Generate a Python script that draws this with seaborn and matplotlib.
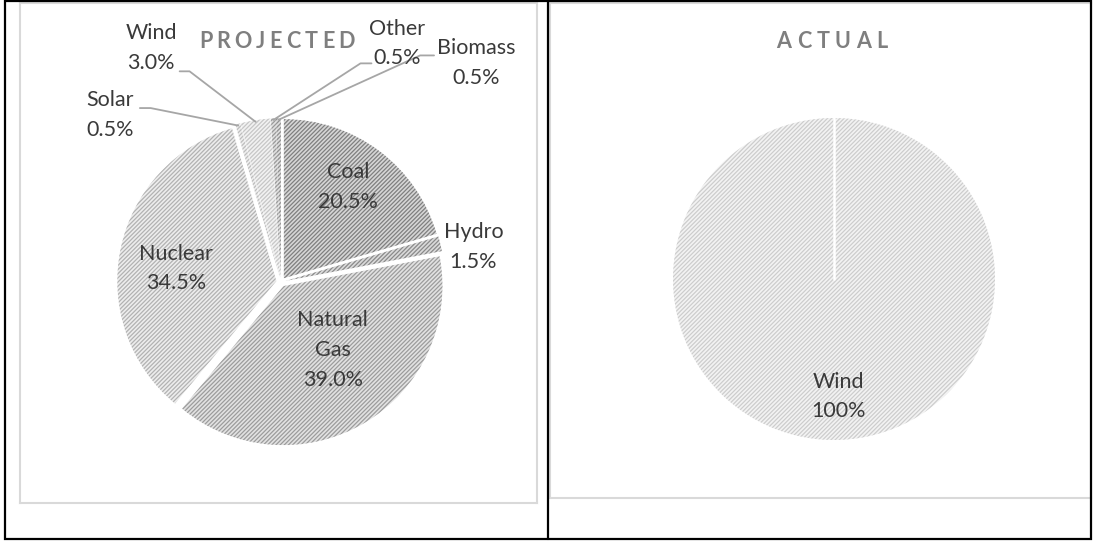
import matplotlib
matplotlib.use("Agg")
import matplotlib.pyplot as plt
from matplotlib.lines import Line2D
from matplotlib.patches import Rectangle
import numpy as np
import seaborn as sns

# projected generation mix, clockwise from 12 o'clock
sources = ["Coal", "Hydro", "Natural Gas", "Nuclear", "Solar", "Wind", "Other", "Biomass"]
projected_pct = [20.5, 1.5, 39.0, 34.5, 0.5, 3.0, 0.5, 0.5]
projected_labels = ["Coal\n20.5%", "Hydro\n1.5%", "Natural\nGas\n39.0%", "Nuclear\n34.5%",
                    "Solar\n0.5%", "Wind\n3.0%", "Other\n0.5%", "Biomass\n0.5%"]

# actual mix
actual_sources = ["Wind"]
actual_pct = [100]
actual_labels = ["Wind\n100%"]

# styling: (face, hatch colour) per slice
face = {"Coal": "#d6d6d6", "Hydro": "#dadada", "Natural Gas": "#e2e2e2", "Nuclear": "#ededed",
        "Solar": "#efefef", "Wind": "#f2f2f2", "Other": "#e0e0e0", "Biomass": "#dddddd"}
hatchc = {"Coal": "#7f7f7f", "Hydro": "#8a8a8a", "Natural Gas": "#9c9c9c", "Nuclear": "#b2b2b2",
          "Solar": "#bdbdbd", "Wind": "#c6c6c6", "Other": "#999999", "Biomass": "#909090"}

# label placement in pie-radius units, relative to pie centre
label_pos = {"Coal": (0.42, 0.60), "Hydro": (1.21, 0.22), "Natural Gas": (0.325, -0.43),
             "Nuclear": (-0.66, 0.085), "Solar": (-1.075, 1.053), "Wind": (-0.816, 1.47),
             "Other": (0.73, 1.50), "Biomass": (1.23, 1.375)}
# leader line start / elbow for the outside labels
leaders = {"Solar": [(-0.8875, 1.094), (-0.82, 1.094)],
           "Wind": [(-0.6375, 1.325), (-0.575, 1.325)],
           "Other": [(0.569, 1.375), (0.50, 1.375)],
           "Biomass": [(0.9625, 1.425), (0.875, 1.425)]}

sns.set_theme(style="white")
plt.rcParams["font.family"] = ["Lato", "DejaVu Sans"]
plt.rcParams["hatch.linewidth"] = 0.9

W, H = 1094, 544
fig = plt.figure(figsize=(W / 100, H / 100), dpi=100)
TXT = "#3a3a3a"
HATCH = "////////"


def panel(box, cx, cy, R):
    x0, y0, x1, y1 = box
    ax = fig.add_axes([x0 / W, 1 - y1 / H, (x1 - x0) / W, (y1 - y0) / H])
    return ax, (x0, y0, x1, y1, cx, cy, R)


def finish(ax, geo):
    x0, y0, x1, y1, cx, cy, R = geo
    ax.set_xlim((x0 - cx) / R, (x1 - cx) / R)
    ax.set_ylim((cy - y1) / R, (cy - y0) / R)
    ax.set_aspect("auto")
    ax.set_frame_on(True)
    ax.set_xticks([])
    ax.set_yticks([])
    for s in ax.spines.values():
        s.set_color("#d9d9d9")
        s.set_linewidth(1.5)


def spaced_title(text, xc, yc, width_px, size):
    r = fig.canvas.get_renderer()
    parts = []
    for ch in text:
        t = fig.text(0, 0, ch, fontsize=size, fontweight="bold", color="#7f7f7f",
                     ha="left", va="center")
        parts.append((t, t.get_window_extent(r).width))
    gap = (width_px - sum(w for _, w in parts)) / (len(parts) - 1)
    x = xc - width_px / 2
    for t, w in parts:
        t.set_position((x / W, 1 - yc / H))
        x += w + gap


# ---- projected ----
ax1, g1 = panel((20, 3, 537, 503), 281, 282, 159)
wedges, _ = ax1.pie(projected_pct, startangle=90, counterclock=False,
                    explode=[0.03] * len(sources),
                    colors=[face[s] for s in sources])
for w, s in zip(wedges, sources):
    w.set_edgecolor(hatchc[s])
    w.set_linewidth(0)
    w.set_hatch(HATCH)
for w, s, lab in zip(wedges, sources, projected_labels):
    lx, ly = label_pos[s]
    ax1.text(lx, ly, lab, ha="center", va="center", ma="center", fontsize=15.5,
             color=TXT, linespacing=1.62)
    if s in leaders:
        mid = np.deg2rad((w.theta1 + w.theta2) / 2)
        ex = w.center[0] + 0.99 * w.r * np.cos(mid)
        ey = w.center[1] + 0.99 * w.r * np.sin(mid)
        pts = leaders[s] + [(ex, ey)]
        ax1.plot([p[0] for p in pts], [p[1] for p in pts], color="#a6a6a6", lw=1.3)
finish(ax1, g1)

# ---- actual ----
ax2, g2 = panel((550, 3, 1091, 498), 834, 279, 161)
w2, _ = ax2.pie(actual_pct, startangle=90, counterclock=False, colors=["#f3f3f3"])
for w in w2:
    w.set_edgecolor("#cdcdcd")
    w.set_linewidth(0)
    w.set_hatch(HATCH)
    # white slice border running from the top of the pie to its centre
    t0 = np.deg2rad(max(w.theta1, w.theta2) % 360)
    ax2.plot([w.center[0], w.center[0] + w.r * np.cos(t0)],
             [w.center[1], w.center[1] + w.r * np.sin(t0)], color="white", lw=1.8)
ax2.text(0.03, -0.73, actual_labels[0], ha="center", va="center", ma="center",
         fontsize=15.5, color=TXT, linespacing=1.62)
finish(ax2, g2)

spaced_title("PROJECTED", 277, 41, 156, 15.5)
spaced_title("ACTUAL", 832, 41, 111, 15.5)

# table borders
fig.add_artist(Rectangle((5 / W, 1 - 539 / H), (1091 - 5) / W, (539 - 1) / H,
                         transform=fig.transFigure, fill=False, edgecolor="black",
                         linewidth=1.6, zorder=10))
fig.add_artist(Line2D([548 / W, 548 / W], [1 - 539 / H, 1 - 1 / H],
                      transform=fig.transFigure, color="black", linewidth=1.6, zorder=10))

fig.savefig("out.png", dpi=100)
